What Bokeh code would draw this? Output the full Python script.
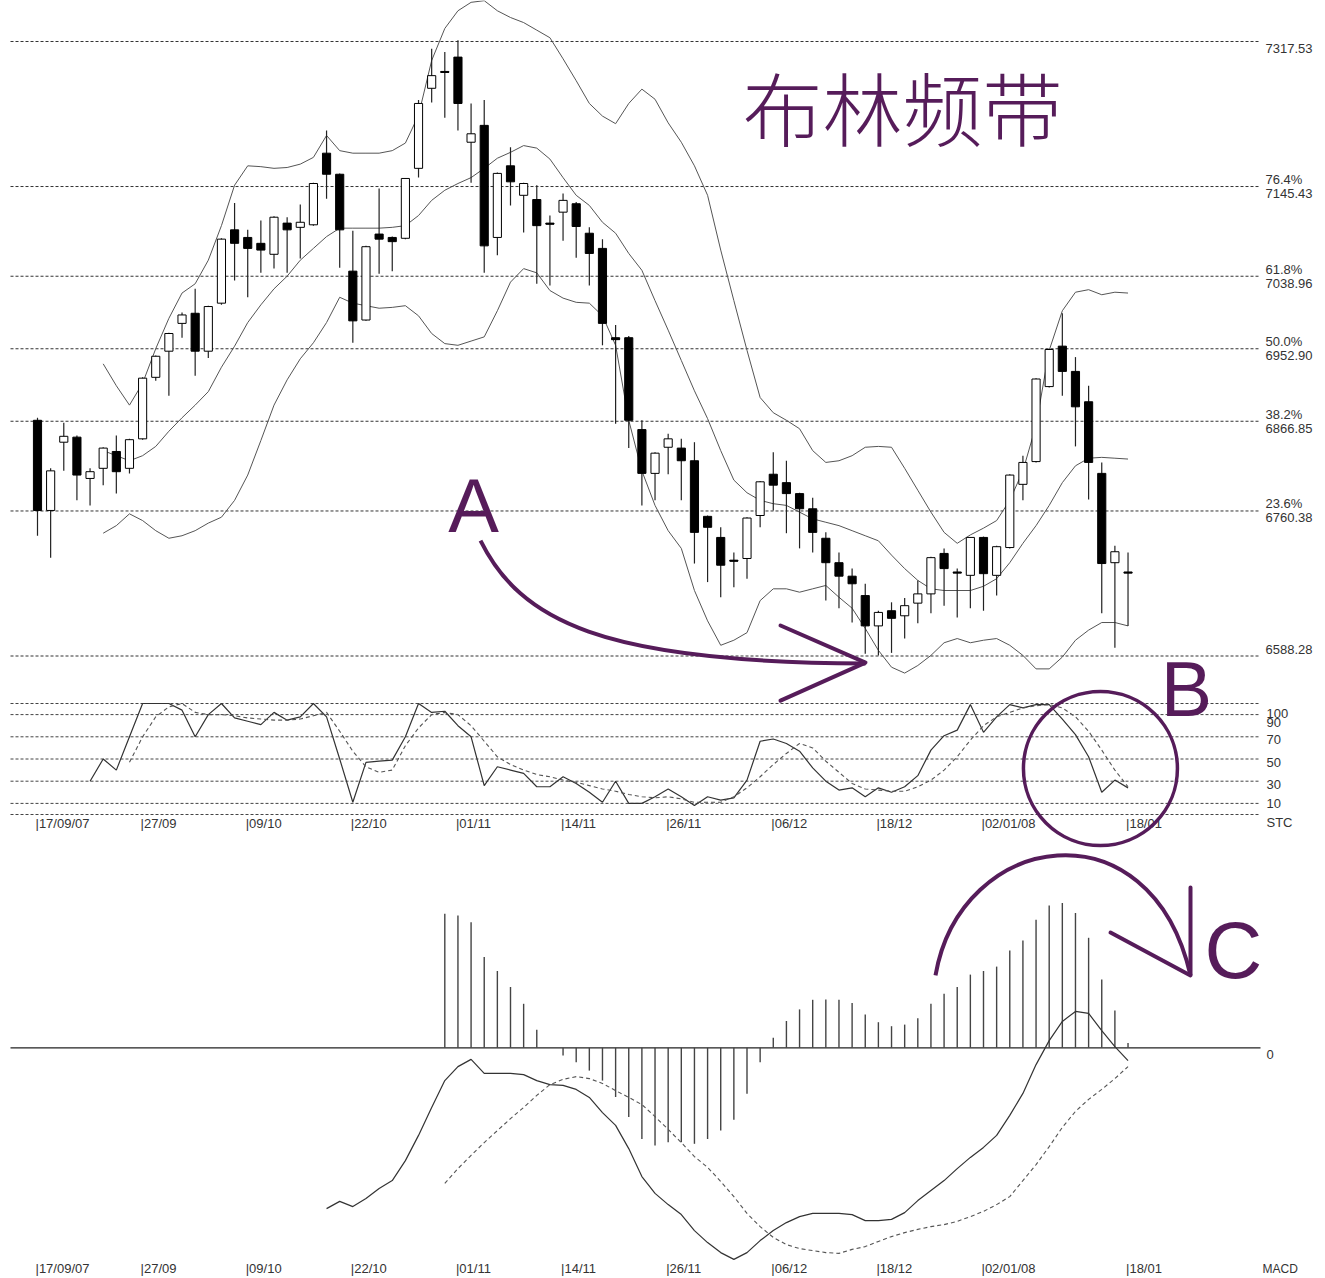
from bokeh.plotting import figure
from bokeh.models import Range1d
from bokeh.core.properties import value
from bokeh.embed import file_html
from bokeh.resources import INLINE

# ---------------- data ----------------
opens = [6868, 6761, 6842, 6848, 6799, 6811, 6831, 6811, 6846, 6919,
         6950, 6983, 6995, 6950, 7007, 7094, 7085, 7078, 7065, 7102,
         7097, 7100, 7185, 7160, 7045, 6987, 7089, 7085, 7084, 7167,
         7262, 7282, 7299, 7198, 7218, 7085, 7170, 7135, 7130, 7102,
         7115, 7125, 7090, 7072, 6966, 6966, 6857, 6805, 6836, 6835,
         6820, 6754, 6729, 6702, 6704, 6755, 6804, 6794, 6781, 6763,
         6728, 6699, 6683, 6660, 6624, 6642, 6636, 6651, 6662, 6710,
         6688, 6684, 6729, 6684, 6717, 6792, 6819, 6908, 6956, 6926,
         6890, 6805, 6699, 6688]
highs = [6871, 6811, 6865, 6850, 6811, 6836, 6850, 6846, 6919, 6945,
         6972, 6996, 7024, 7004, 7084, 7126, 7094, 7105, 7110, 7109,
         7124, 7150, 7212, 7161, 7093, 7075, 7143, 7086, 7155, 7248,
         7309, 7305, 7319, 7244, 7248, 7162, 7192, 7150, 7147, 7111,
         7137, 7127, 7097, 7083, 6981, 6968, 6868, 6830, 6852, 6846,
         6842, 6755, 6741, 6711, 6753, 6796, 6830, 6820, 6782, 6776,
         6735, 6711, 6692, 6674, 6642, 6652, 6657, 6678, 6706, 6716,
         6692, 6729, 6730, 6719, 6804, 6826, 6918, 6953, 6995, 6943,
         6909, 6818, 6719, 6711]
lows = [6731, 6705, 6808, 6773, 6767, 6791, 6781, 6805, 6845, 6915,
        6897, 6966, 6921, 6942, 7005, 7034, 7014, 7043, 7048, 7043,
        7060, 7099, 7131, 7049, 6960, 6986, 7042, 7045, 7083, 7156,
        7245, 7227, 7212, 7150, 7043, 7064, 7123, 7091, 7030, 7028,
        7081, 7061, 7028, 6957, 6864, 6835, 6767, 6773, 6804, 6773,
        6698, 6676, 6658, 6670, 6680, 6741, 6761, 6734, 6716, 6711,
        6654, 6645, 6628, 6591, 6589, 6592, 6609, 6627, 6639, 6648,
        6634, 6645, 6642, 6660, 6716, 6773, 6818, 6907, 6897, 6837,
        6774, 6639, 6598, 6624]
closes = [6761, 6808, 6849, 6803, 6807, 6835, 6807, 6845, 6918, 6944,
          6971, 6993, 6950, 7003, 7083, 7078, 7072, 7070, 7109, 7094,
          7103, 7149, 7160, 7094, 6986, 7074, 7083, 7080, 7155, 7244,
          7277, 7281, 7244, 7208, 7075, 7161, 7151, 7149, 7099, 7101,
          7129, 7098, 7066, 6983, 6964, 6868, 6805, 6829, 6846, 6820,
          6735, 6741, 6696, 6701, 6752, 6795, 6791, 6781, 6763, 6735,
          6699, 6683, 6674, 6624, 6640, 6633, 6648, 6662, 6705, 6692,
          6687, 6729, 6686, 6718, 6803, 6818, 6917, 6952, 6926, 6884,
          6818, 6698, 6712, 6687]

bb_start = 5
bb_upper = [6935, 6909, 6886, 6912, 6953, 6989, 7019, 7030, 7058, 7099,
            7147, 7170, 7169, 7167, 7168, 7172, 7180, 7206, 7188, 7185,
            7185, 7185, 7188, 7197, 7230, 7295, 7333, 7354, 7364, 7366,
            7354, 7346, 7340, 7331, 7322, 7297, 7271, 7244, 7229, 7220,
            7244, 7261, 7249, 7221, 7198, 7170, 7135, 7070, 7010, 6951,
            6895, 6877, 6868, 6858, 6832, 6818, 6820, 6826, 6836, 6837,
            6836, 6811, 6785, 6759, 6735, 6722, 6732, 6740, 6749, 6773,
            6808, 6862, 6951, 6998, 7020, 7023, 7017, 7020, 7019]
bb_mid = [6832, 6826, 6820, 6826, 6837, 6855, 6871, 6886, 6902, 6931,
          6956, 6984, 7005, 7024, 7039, 7058, 7072, 7086, 7096, 7096,
          7096, 7096, 7097, 7099, 7111, 7129, 7141, 7149, 7156, 7167,
          7179, 7186, 7194, 7191, 7178, 7156, 7135, 7123, 7103, 7090,
          7066, 7046, 7010, 6975, 6939, 6903, 6870, 6832, 6797, 6782,
          6773, 6769, 6767, 6759, 6751, 6747, 6743, 6737, 6731, 6725,
          6708, 6692, 6678, 6668, 6666, 6666, 6666, 6671, 6680, 6699,
          6722, 6743, 6767, 6794, 6814, 6823, 6824, 6823, 6822]
bb_lower = [6734, 6743, 6757, 6749, 6737, 6728, 6731, 6737, 6746, 6753,
            6773, 6803, 6844, 6886, 6916, 6941, 6960, 6984, 7014, 7007,
            7004, 7001, 7002, 7004, 6992, 6971, 6959, 6957, 6962, 6967,
            6998, 7032, 7048, 7043, 7022, 7013, 7008, 7007, 6992, 6957,
            6868, 6808, 6767, 6737, 6716, 6666, 6630, 6601, 6607, 6616,
            6654, 6668, 6668, 6664, 6668, 6672, 6658, 6645, 6621, 6595,
            6575, 6568, 6577, 6589, 6604, 6609, 6604, 6607, 6609, 6601,
            6589, 6573, 6573, 6587, 6607, 6619, 6628, 6628, 6624]

fib_levels = [7317.53, 7145.43, 7038.96, 6952.90, 6866.85, 6760.38, 6588.28]
fib_pcts = ["", "76.4%", "61.8%", "50.0%", "38.2%", "23.6%", ""]

stc_k_start = 4
stc_k = [30, 50, 40, 70, 100, 100, 100, 94, 70, 90,
         100, 87, 84, 81, 92, 85, 88, 100, 88, 50,
         11, 47, 48, 49, 70, 100, 92, 93, 80, 70,
         26, 43, 40, 37, 25, 25, 34, 28, 20, 11,
         30, 10, 10, 16, 23, 16, 8, 16, 13, 15,
         31, 66, 68, 64, 57, 42, 30, 22, 24, 16,
         24, 20, 25, 35, 58, 71, 76, 99, 74, 88,
         99, 96, 99, 99, 86, 72, 52, 20, 31, 24]
stc_d_start = 7
stc_d = [47, 70, 88, 97, 100, 92, 90, 90, 89, 87,
         86, 85, 85, 86, 89, 92, 75, 57, 43, 38,
         40, 62, 78, 90, 92, 90, 80, 66, 52, 45,
         40, 36, 34, 31, 29, 26, 23, 21, 18, 16,
         15, 16, 14, 11, 11, 11, 16, 24, 34, 45,
         55, 64, 60, 48, 38, 28, 23, 22, 21, 21,
         25, 31, 40, 52, 67, 80, 88, 92, 96, 98,
         99, 96, 88, 75, 58, 40, 25]
stc_levels = [100, 90, 70, 50, 30, 10, 0]
stc_labels = ["100", "90", "70", "50", "30", "10", "STC"]

macd_start = 22
macd_line = [-40.2, -38.4, -39.7, -37.7, -35.2, -33.2, -28.2, -21.9, -14.9, -8.2,
             -4.7, -2.9, -6.4, -6.4, -6.4, -6.7, -8.2, -9.2, -9.4, -10.4,
             -12.4, -16.2, -19.4, -25.2, -32.2, -36.4, -39.2, -41.7, -45.7, -48.7,
             -51.2, -52.9, -51.2, -48.2, -45.7, -43.7, -42.2, -41.4, -41.4, -41.4,
             -41.7, -43.2, -43.2, -42.9, -41.2, -38.2, -35.7, -33.2, -30.2, -27.4,
             -24.9, -21.9, -16.9, -11.4, -4.2, 1.8, 6.6, 9.1, 8.6, 4.3,
             0.3, -3.2]
signal_start = 31
macd_signal = [-33.9, -30.2, -26.9, -23.7, -20.7, -17.7, -14.9, -11.9, -9.2, -7.9,
               -7.2, -7.7, -8.9, -10.7, -12.4, -14.2, -17.2, -20.4, -23.7, -27.2,
               -29.9, -33.4, -37.2, -41.4, -44.7, -47.4, -49.2, -50.2, -50.7, -51.2,
               -51.4, -50.4, -49.7, -48.4, -47.2, -46.2, -45.4, -44.7, -44.2, -43.4,
               -42.2, -40.9, -39.2, -37.2, -33.2, -29.2, -24.7, -19.9, -15.9, -12.9,
               -10.4, -7.7, -4.7]
hist_start = 31
macd_hist = [33.5, 33.1, 31.4, 22.7, 19.2, 15.2, 11.0, 4.5, 0.0, -1.9,
             -3.6, -5.7, -8.2, -12.3, -17.3, -22.8, -24.4, -23.6, -23.6, -24.0,
             -22.8, -20.7, -18.0, -11.5, -3.6, 2.5, 6.7, 9.6, 12.0, 12.1,
             12.0, 11.2, 8.3, 6.4, 5.4, 5.8, 7.4, 11.0, 13.5, 15.2,
             18.3, 19.2, 20.3, 24.3, 26.8, 32.0, 35.6, 36.2, 33.7, 27.5,
             17.1, 9.3, 1.2]

date_pos = [0, 8, 16, 24, 32, 40, 48, 56, 64, 72, 83]
date_labels = ["|17/09/07", "|27/09", "|09/10", "|22/10", "|01/11", "|14/11",
               "|26/11", "|06/12", "|18/12", "|02/01/08", "|18/01"]

# ---------------- layout ----------------
W, H, TOP, LEFT = 1318, 1276, 0, 0
PURPLE = "#561c5a"


def make_range(v1, y1, v2, y2, origin, size):
    k = (y2 - y1) / (v1 - v2)
    top = v1 + (y1 - origin) / k
    return Range1d(top - size / k, top)


kx = (983 - 37) / 72.0
x_range = Range1d((LEFT - 37) / kx, (LEFT + W - 37) / kx)
price_range = make_range(7317.53, 41, 6588.28, 655.5, TOP, H)
stc_range = make_range(100, 703, 0, 814, TOP, H)
macd_range = make_range(0, 1047.3, -50, 1247.3, TOP, H)


def xi(px):
    return (px - 37) / kx


p = figure(width=W, height=H, output_backend="svg", toolbar_location=None,
           x_range=x_range, y_range=price_range, x_axis_type=None, y_axis_type=None,
           min_border=0)
p.extra_y_ranges = {"stc": stc_range, "macd": macd_range}
p.outline_line_color = None
p.background_fill_color = "white"
p.border_fill_color = "white"

LABEL_FONT = value("Liberation Sans")
XL, XR = xi(10), xi(1258)

# ---- price panel ----
n = len(fib_levels)
p.segment(x0=[XL] * n, y0=fib_levels, x1=[XR] * n, y1=fib_levels,
          line_color="#333333", line_width=1, line_dash="3 2")
val_off = [7, 7, 7, 7, 7, 7, -7]
p.text(x=[xi(1265)] * n, y=fib_levels, text=["%.2f" % v for v in fib_levels],
       y_offset=val_off, text_font=LABEL_FONT, text_font_size="13px",
       text_color="#333333", text_baseline="middle", text_align="left")
pct_y = [lv for lv, t in zip(fib_levels, fib_pcts) if t]
pct_t = [t for t in fib_pcts if t]
p.text(x=[xi(1265)] * len(pct_y), y=pct_y, text=pct_t, y_offset=-7,
       text_font=LABEL_FONT, text_font_size="13px", text_color="#333333",
       text_baseline="middle", text_align="left")

bbx = list(range(bb_start, bb_start + len(bb_upper)))
for band in (bb_upper, bb_mid, bb_lower):
    p.line(bbx, band, line_color="#555555", line_width=1)

idx = list(range(len(closes)))
p.segment(x0=idx, y0=lows, x1=idx, y1=highs, line_color="#222222", line_width=1.2)
tops = [max(o, c) for o, c in zip(opens, closes)]
bots = [min(o, c) for o, c in zip(opens, closes)]
fills = ["white" if c >= o else "black" for o, c in zip(opens, closes)]
p.vbar(x=idx, width=0.62, top=tops, bottom=bots, fill_color=fills,
       line_color="black", line_width=1)
doji = [i for i in idx if abs(opens[i] - closes[i]) < 3]
p.segment(x0=[i - 0.32 for i in doji], y0=[closes[i] for i in doji],
          x1=[i + 0.32 for i in doji], y1=[closes[i] for i in doji],
          line_color="black", line_width=1.5)

# ---- STC panel ----
m = len(stc_levels)
p.segment(x0=[XL] * m, y0=stc_levels, x1=[XR] * m, y1=stc_levels,
          y_range_name="stc", line_color="#444444", line_width=1, line_dash="3 2")
p.text(x=[xi(1266)] * m, y=stc_levels, text=stc_labels,
       y_offset=[10, 8, 3, 3, 3, 0, 8], y_range_name="stc",
       text_font=LABEL_FONT, text_font_size="13px", text_color="#333333",
       text_baseline="middle", text_align="left")
p.line(list(range(stc_k_start, stc_k_start + len(stc_k))), stc_k, y_range_name="stc",
       line_color="#333333", line_width=1.2)
p.line(list(range(stc_d_start, stc_d_start + len(stc_d))), stc_d, y_range_name="stc",
       line_color="#555555", line_width=1.1, line_dash="4 3")
p.text(x=date_pos, y=[0] * len(date_pos), text=date_labels, x_offset=-2, y_offset=9,
       y_range_name="stc", text_font=LABEL_FONT, text_font_size="13px",
       text_color="#333333", text_baseline="middle", text_align="left")

# ---- MACD panel ----
p.segment(x0=[XL], y0=[0], x1=[xi(1260)], y1=[0], y_range_name="macd",
          line_color="#222222", line_width=1.2)
hx = list(range(hist_start, hist_start + len(macd_hist)))
p.segment(x0=hx, y0=[0] * len(hx), x1=hx, y1=macd_hist, y_range_name="macd",
          line_color="#444444", line_width=1.4)
p.line(list(range(macd_start, macd_start + len(macd_line))), macd_line,
       y_range_name="macd", line_color="#333333", line_width=1.2)
p.line(list(range(signal_start, signal_start + len(macd_signal))), macd_signal,
       y_range_name="macd", line_color="#555555", line_width=1.1, line_dash="4 3")
macd_lbl_y = -55.2
p.text(x=date_pos, y=[macd_lbl_y] * len(date_pos), text=date_labels, x_offset=-2,
       y_range_name="macd", text_font=LABEL_FONT, text_font_size="13px",
       text_color="#333333", text_baseline="middle", text_align="left")
p.text(x=[xi(1262)], y=[macd_lbl_y], text=["MACD"], y_range_name="macd",
       text_font=LABEL_FONT, text_font_size="12px", text_color="#333333",
       text_baseline="middle", text_align="left")
p.text(x=[xi(1266)], y=[0], text=["0"], y_offset=7, y_range_name="macd",
       text_font=LABEL_FONT, text_font_size="13px", text_color="#333333",
       text_baseline="middle", text_align="left")

# ---- annotations ----
p.text(x=[xi(902)], y=[7241.6], text=["布林频带"],
       text_font=value("'Noto Sans CJK SC Light', 'Noto Sans CJK SC'"),
       text_font_size="80px", text_color=PURPLE, text_align="center",
       text_baseline="middle")
p.text(x=[xi(473)], y=[6766.9], text=["A"], text_font=LABEL_FONT,
       text_font_size="76px", text_color=PURPLE, text_align="center",
       text_baseline="middle")
p.text(x=[xi(1186)], y=[113.5], text=["B"], y_range_name="stc", text_font=LABEL_FONT,
       text_font_size="77px", text_color=PURPLE, text_align="center",
       text_baseline="middle")
p.text(x=[xi(1233)], y=[24.3], text=["C"], y_range_name="macd", text_font=LABEL_FONT,
       text_font_size="80px", text_color=PURPLE, text_align="center",
       text_baseline="middle")

# arrow A
p.bezier(x0=[xi(480)], y0=[6725.3], x1=[xi(865)], y1=[6579.4],
         cx0=[xi(520)], cy0=[6630.4], cx1=[xi(600)], cy1=[6580.5],
         line_color=PURPLE, line_width=4)
p.line([xi(780), xi(865), xi(780)], [6624.5, 6580.5, 6535.4],
       line_color=PURPLE, line_width=4, line_join="round", line_cap="round")

# circle B
p.ellipse(x=[80.9], y=[41.4], width=154, height=154, width_units="screen",
          height_units="screen", y_range_name="stc", fill_color=None,
          line_color=PURPLE, line_width=3.5)

# arrow C
p.bezier(x0=[xi(935)], y0=[18.1], x1=[xi(1190)], y1=[18.1],
         cx0=[xi(960)], cy0=[54.3], cx1=[xi(1150)], cy1=[61.8],
         y_range_name="macd", line_color=PURPLE, line_width=4)
p.line([xi(1110), xi(1190), xi(1190)], [28.8, 18.1, 40.1], y_range_name="macd",
       line_color=PURPLE, line_width=4, line_join="round", line_cap="round")

open("out.html", "w").write(file_html(p, INLINE))
